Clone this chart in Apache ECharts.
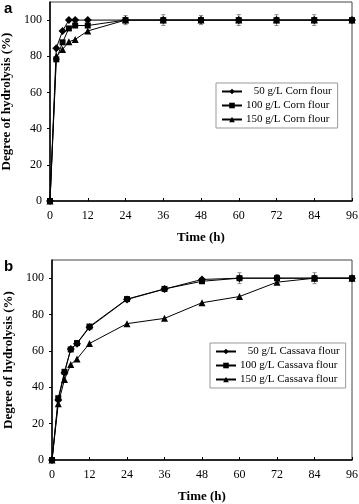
<!DOCTYPE html>
<html>
<head>
<meta charset="utf-8">
<script src="https://cdn.jsdelivr.net/npm/echarts@6/dist/echarts.min.js"></script>
<style>
  html, body { margin: 0; padding: 0; background: #fff; }
  #main { width: 359px; height: 504px; }
</style>
</head>
<body>
<div id="main"></div>
<script>
// time points (h), shared by both panels
var hours = [0, 2, 4, 6, 8, 12, 24, 36, 48, 60, 72, 84, 96];

// panel a - corn flour
var corn50  = [0, 84.5, 94, 100, 100, 100, 100, 100, 100, 100, 100, 100, 100];
var corn100 = [0, 78.3, 87.7, 95.4, 97, 97, 100, 100, 100, 100, 100, 100, 100];
var corn150 = [0, 80, 83.8, 88, 89.3, 94, 100, 100, 100, 100, 100, 100, 100];
var cornErr = [0, 0, 0, 0, 0, 0, 2.5, 3, 2.5, 3, 3, 3, 0];

// panel b - cassava flour
var cas50  = [0, 33, 48, 61, 64, 73, 88.3, 94, 99.3, 100, 100, 100, 100];
var cas100 = [0, 34, 48.5, 60.8, 64.3, 73.4, 88.5, 94.1, 98.3, 100, 100, 100, 100];
var cas150 = [0, 31, 44.3, 52.5, 55.6, 64.1, 75, 77.9, 86.5, 89.9, 97.8, 100, 100];
var casErr = [0, 0, 0, 0, 0, 0, 0, 0, 0, 3, 2, 3, 0];

var legendA = ['\u2002\u200950 g/L Corn flour', '100 g/L Corn flour', '150 g/L Corn flour'];
var legendB = ['\u2002\u200950 g/L Cassava flour', '100 g/L Cassava flour', '150 g/L Cassava flour'];

function pairs(vals) {
  return hours.map(function (h, i) { return [h, vals[i]]; });
}

function errData(vals, errs) {
  var out = [];
  hours.forEach(function (h, i) {
    if (errs[i] > 0) out.push([h, vals[i] - errs[i], vals[i] + errs[i]]);
  });
  return out;
}

function renderErr(params, api) {
  var lo = api.coord([api.value(0), api.value(1)]);
  var hi = api.coord([api.value(0), api.value(2)]);
  var c = 2;
  var st = { stroke: '#888', lineWidth: 1 };
  return {
    type: 'group',
    children: [
      { type: 'line', shape: { x1: lo[0], y1: lo[1], x2: hi[0], y2: hi[1] }, style: st },
      { type: 'line', shape: { x1: lo[0] - c, y1: lo[1], x2: lo[0] + c, y2: lo[1] }, style: st },
      { type: 'line', shape: { x1: hi[0] - c, y1: hi[1], x2: hi[0] + c, y2: hi[1] }, style: st }
    ]
  };
}

var serif = '"Liberation Serif", "Times New Roman", serif';

function xAxisFor(idx) {
  return {
    type: 'value', gridIndex: idx, min: 0, max: 96, interval: 12,
    name: 'Time (h)', nameLocation: 'middle', nameGap: 30,
    nameTextStyle: { fontFamily: serif, fontWeight: 'bold', fontSize: 13, color: '#000' },
    axisLine: { lineStyle: { color: '#000', width: 1.5 } },
    axisTick: { inside: true, length: 3, lineStyle: { color: '#000' } },
    axisLabel: { fontFamily: serif, fontSize: 12, color: '#000', margin: 9 },
    splitLine: { show: false }
  };
}

function yAxisFor(idx) {
  return {
    type: 'value', gridIndex: idx, min: 0, max: 110, interval: 20,
    name: 'Degree of hydrolysis (%)', nameLocation: 'middle', nameGap: 34, nameRotate: 90,
    nameTextStyle: { fontFamily: serif, fontWeight: 'bold', fontSize: 13, color: '#000' },
    axisLine: { show: true, lineStyle: { color: '#000', width: 1.5 } },
    axisTick: { length: 3, lineStyle: { color: '#000' } },
    axisLabel: { fontFamily: serif, fontSize: 12, color: '#000', margin: 8, showMaxLabel: false },
    splitLine: { show: false }
  };
}

function lineSeries(name, vals, idx, symbol, size) {
  return {
    name: name, type: 'line', xAxisIndex: idx, yAxisIndex: idx,
    data: pairs(vals), symbol: symbol, symbolSize: size,
    lineStyle: { color: '#000', width: 1 },
    itemStyle: { color: '#000' },
    emphasis: { disabled: true }
  };
}

function legendFor(names, left, top) {
  return {
    data: names, orient: 'vertical', left: left, top: top,
    itemWidth: 20, itemHeight: 7, itemGap: 3,
    padding: [3, 6, 3, 5],
    borderColor: '#999', borderWidth: 1,
    textStyle: { fontFamily: serif, fontSize: 11, color: '#000', padding: [0, 0, 0, -1] }
  };
}

var myChart = echarts.init(document.getElementById('main'));
myChart.setOption({
  animation: false,
  grid: [
    { left: 50, right: 7, top: 2, height: 199, show: true, borderColor: '#444', borderWidth: 1, outerBoundsMode: 'none', containLabel: false },
    { left: 52, right: 7, top: 260, height: 200, show: true, borderColor: '#444', borderWidth: 1, outerBoundsMode: 'none', containLabel: false }
  ],
  xAxis: [xAxisFor(0), xAxisFor(1)],
  yAxis: [yAxisFor(0), yAxisFor(1)],
  legend: [legendFor(legendA, 216, 83), legendFor(legendB, 210, 343)],
  graphic: [
    { type: 'text', left: 4, top: 1, style: { text: 'a', font: 'bold 15px "Liberation Sans", Arial, sans-serif', fill: '#000' } },
    { type: 'text', left: 4, top: 259, style: { text: 'b', font: 'bold 15px "Liberation Sans", Arial, sans-serif', fill: '#000' } }
  ],
  series: [
    { type: 'custom', xAxisIndex: 0, yAxisIndex: 0, renderItem: renderErr, data: errData(corn100, cornErr), z: 1 },
    { type: 'custom', xAxisIndex: 1, yAxisIndex: 1, renderItem: renderErr, data: errData(cas100, casErr), z: 1 },
    lineSeries(legendA[0], corn50, 0, 'diamond', 8),
    lineSeries(legendA[1], corn100, 0, 'rect', 6),
    lineSeries(legendA[2], corn150, 0, 'triangle', 7),
    lineSeries(legendB[0], cas50, 1, 'diamond', 8),
    lineSeries(legendB[1], cas100, 1, 'rect', 6),
    lineSeries(legendB[2], cas150, 1, 'triangle', 7)
  ]
});
window.addEventListener('resize', function () {
  myChart.resize();
}, false);
</script>
</body>
</html>
